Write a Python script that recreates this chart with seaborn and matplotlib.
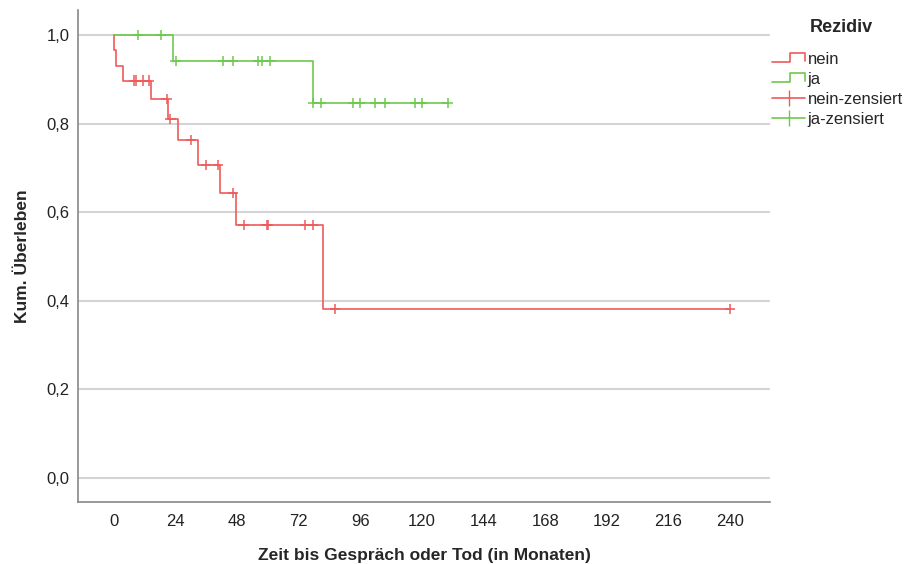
import numpy as np
import pandas as pd
import seaborn as sns
import matplotlib.pyplot as plt
from matplotlib.lines import Line2D
from matplotlib.legend_handler import HandlerBase
from matplotlib.ticker import FuncFormatter

# Kaplan-Meier step values (Monate, Kum. Ueberleben)
nein_t = [0, 0, 0.8, 3.6, 14.3, 21.2, 25.1, 32.8, 41.4, 47.5, 81.3, 240]
nein_s = [1.0, 0.966, 0.931, 0.897, 0.855, 0.810, 0.763, 0.707, 0.643, 0.571, 0.381, 0.381]
ja_t = [0, 23.1, 77.4, 130]
ja_s = [1.0, 0.941, 0.847, 0.847]

# censored cases
nein_cens = [8, 8.6, 11.5, 13.5, 20.5, 22, 30, 36, 40.5, 46.5, 50.5, 59.5, 60, 74.5, 77.5, 86, 240]
ja_cens = [9.5, 18.3, 24, 42.6, 46.5, 56.2, 57.8, 61, 77.6, 80.5, 93.2, 95.8, 101.8, 105.6, 117.3, 120.1, 130]

x_ticks = [0, 24, 48, 72, 96, 120, 144, 168, 192, 216, 240]
y_ticks = [0.0, 0.2, 0.4, 0.6, 0.8, 1.0]

red = '#ef5a5a'
green = '#6cc94c'


def level_at(times, levels, t):
    i = np.searchsorted(times, t, side='right') - 1
    return levels[i]


curves = pd.concat([
    pd.DataFrame({'t': nein_t, 's': nein_s, 'Rezidiv': 'nein'}),
    pd.DataFrame({'t': ja_t, 's': ja_s, 'Rezidiv': 'ja'}),
])
cens = pd.concat([
    pd.DataFrame({'t': nein_cens, 's': [level_at(nein_t, nein_s, t) for t in nein_cens], 'Rezidiv': 'nein'}),
    pd.DataFrame({'t': ja_cens, 's': [level_at(ja_t, ja_s, t) for t in ja_cens], 'Rezidiv': 'ja'}),
])

sns.set_style('white')
plt.rcParams['font.family'] = ['Liberation Sans', 'DejaVu Sans']

fig = plt.figure(figsize=(9.13, 5.64), dpi=100)
ax = fig.add_axes([0.0854, 0.110, 0.758, 0.872])

for y in y_ticks:
    ax.axhline(y, color='#d4d4d4', lw=1.5, zorder=0)

pal = {'nein': red, 'ja': green}
sns.lineplot(data=curves, x='t', y='s', hue='Rezidiv', palette=pal, estimator=None,
             sort=False, drawstyle='steps-post', lw=1.2, legend=False, ax=ax)
sns.scatterplot(data=cens, x='t', y='s', hue='Rezidiv', palette=pal, marker='+',
                s=55, linewidth=1.1, legend=False, ax=ax, zorder=3)

ax.set_xlim(-14, 255.6)
ax.set_ylim(-0.054, 1.056)
ax.set_xticks(x_ticks)
ax.set_yticks(y_ticks)
ax.yaxis.set_major_formatter(FuncFormatter(lambda v, p: f'{v:.1f}'.replace('.', ',')))
ax.tick_params(length=0, labelsize=12, colors='#222222')
ax.tick_params(axis='y', pad=6)
ax.tick_params(axis='x', pad=9)
for side in ['top', 'right']:
    ax.spines[side].set_visible(False)
for side in ['left', 'bottom']:
    ax.spines[side].set_color('#888888')
    ax.spines[side].set_linewidth(1.2)

ax.set_xlabel('Zeit bis Gespräch oder Tod (in Monaten)', fontsize=12.5, fontweight='bold', labelpad=13)
ax.set_ylabel('Kum. Überleben', fontsize=12.5, fontweight='bold', labelpad=12)


class StepHandler(HandlerBase):
    def create_artists(self, legend, orig_handle, xdescent, ydescent, width, height, fontsize, trans):
        x0 = -xdescent
        y0 = -ydescent
        xs = [x0, x0 + 0.55 * width, x0 + 0.55 * width, x0 + width, x0 + width]
        ys = [y0 + 0.1 * height, y0 + 0.1 * height, y0 + 0.95 * height, y0 + 0.95 * height, y0 + 0.2 * height]
        ln = Line2D(xs, ys, color=orig_handle.get_color(), lw=1.2, transform=trans)
        return [ln]


handles = [
    Line2D([], [], color=red),
    Line2D([], [], color=green),
    Line2D([], [], color=red, marker='|', markersize=12, lw=1.2),
    Line2D([], [], color=green, marker='|', markersize=12, lw=1.2),
]
labels = ['nein', 'ja', 'nein-zensiert', 'ja-zensiert']
fig.text(0.921, 0.952, 'Rezidiv', fontsize=13, fontweight='bold', ha='center', va='center')
leg = fig.legend(handles, labels, loc='upper left', bbox_to_anchor=(0.829, 0.935),
                 frameon=False, fontsize=12, handlelength=2.0,
                 handletextpad=0.15, labelspacing=0.3,
                 handler_map={handles[0]: StepHandler(), handles[1]: StepHandler()})

fig.savefig('out.png', dpi=100)
